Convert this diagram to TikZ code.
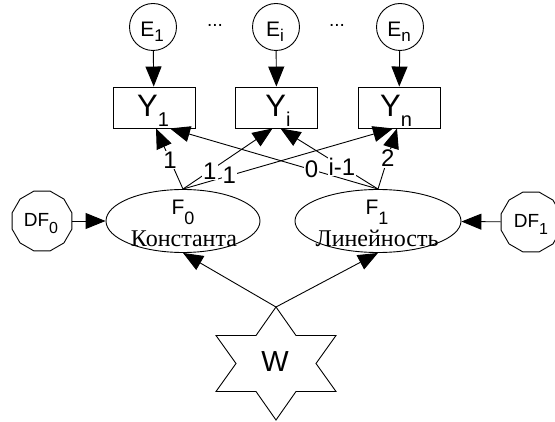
\documentclass[tikz,border=0pt]{standalone}
\usepackage{fontspec}
\setmainfont{Liberation Serif}
\setsansfont{Liberation Sans}
\usetikzlibrary{shapes.geometric,arrows.meta,calc}
\newcommand\SubLbl[5]{{\fontsize{#2pt}{#2pt}\selectfont #1}\raisebox{-#5pt}{\fontsize{#4pt}{#4pt}\selectfont #3}}
\tikzset{
  ecirc/.style={draw, circle, minimum size=47pt, inner sep=0pt},
  ybox/.style={draw, rectangle, minimum width=82pt, minimum height=41pt, inner sep=0pt},
  fell/.style={draw, ellipse, inner sep=0pt, minimum height=63pt},
  dfpoly/.style={draw, regular polygon, regular polygon sides=12, minimum size=62pt, inner sep=0pt},
  arr/.style={-{Triangle[length=20pt,width=16pt]}},
  txt/.style={anchor=base, inner sep=0pt, font=\sffamily},
  coef/.style={fill=white, inner sep=1pt, font=\fontsize{24pt}{24pt}\selectfont\sffamily},
  cyr/.style={anchor=base, inner sep=0pt, font=\fontsize{24pt}{24pt}\selectfont\rmfamily},
}
\begin{document}
\begin{tikzpicture}[x=1pt,y=-1pt,line width=0.9pt]
\useasboundingbox (0,0) rectangle (555,422);
% error circles
\node[ecirc] (E1) at (153,27) {};
\node[ecirc] (Ei) at (276,27) {};
\node[ecirc] (En) at (400,27) {};
\node[txt] (E1t) at (152,37) {\SubLbl{E}{21}{1}{17}{5}};
\node[txt] (Eit) at (275,37) {\SubLbl{E}{21}{i}{17}{5}};
\node[txt] (Ent) at (399,37) {\SubLbl{E}{21}{n}{17}{5}};
\node[txt,font=\fontsize{19pt}{19pt}\selectfont\sffamily] (d1) at (215,26.5) {...};
\node[txt,font=\fontsize{19pt}{19pt}\selectfont\sffamily] (d2) at (337,26.5) {...};
% observed boxes
\node[ybox] (Y1) at (154,107.5) {};
\node[ybox] (Yi) at (276.5,107.5) {};
\node[ybox] (Yn) at (399,107.5) {};
\node[txt] (Y1t) at (153,117) {\SubLbl{Y}{31}{1}{20}{10}};
\node[txt] (Yit) at (278,117) {\SubLbl{Y}{31}{i}{20}{10}};
\node[txt] (Ynt) at (396,117) {\SubLbl{Y}{31}{n}{20}{10}};
\draw[arr] (E1) -- (Y1);
\draw[arr] (Ei) -- (Yi);
\draw[arr] (En) -- (Yn);
% factors
\node[fell, minimum width=154pt] (F0) at (183,221) {};
\node[fell, minimum width=166pt] (F1) at (378,221) {};
\node[txt] (F0t) at (183,215) {\SubLbl{F}{21}{0}{18}{10}};
\node[txt] (F1t) at (377,215) {\SubLbl{F}{21}{1}{18}{10}};
\node[cyr] (F0n) at (184,246.5) {Константа};
\node[cyr] (F1n) at (377,246.5) {Линейность};
% disturbances
\node[dfpoly] (DF0) at (42,221) {};
\node[dfpoly] (DF1) at (531,222) {};
\node[txt] (DF0t) at (41,227) {\SubLbl{DF}{19}{0}{16}{6.5}};
\node[txt] (DF1t) at (531,228) {\SubLbl{DF}{19}{1}{16}{6.5}};
\draw[arr] (DF0) -- (F0);
\draw[arr] (DF1) -- (F1);
% loadings
\draw[arr] (F0.north) -- ($(Y1.south)+(2,0)$);
\draw[arr] (F0.north) -- ($(Yi.south)+(-4,0)$);
\draw[arr] (F0.north) -- ($(Yn.south)+(-6,0)$);
\draw[arr] (F1.north) -- ($(Y1.south)+(16,0)$);
\draw[arr] (F1.north) -- ($(Yi.south)+(4,0)$);
\draw[arr] (F1.north) -- ($(Yn.south)+(-2,0)$);
\path (F0.north) -- node[coef,pos=0.48] (l1) {1} ($(Y1.south)+(2,0)$);
\path (F0.north) -- node[coef,pos=0.30] (l2) {1} ($(Yi.south)+(-4,0)$);
\path (F0.north) -- node[coef,pos=0.22] (l3) {1} ($(Yn.south)+(-6,0)$);
\path (F1.north) -- node[coef,pos=0.32] (l4) {0} ($(Y1.south)+(16,0)$);
\path (F1.north) -- node[coef,pos=0.37] (l5) {i-1} ($(Yi.south)+(4,0)$);
\path (F1.north) -- node[coef,pos=0.51] (l6) {2} ($(Yn.south)+(-2,0)$);
% star W
\draw (276,307) -- (296,335.5) -- (336,335.5) -- (316,363.5) -- (336,391.5) -- (296,391.5)
  -- (276,420) -- (256,391.5) -- (216,391.5) -- (236,363.5) -- (216,335.5) -- (256,335.5) -- cycle;
\coordinate (Wtop) at (276,307);
\node[txt] (W) at (275,372) {\fontsize{29pt}{29pt}\selectfont W};
\draw[arr] (Wtop) -- (F0.south);
\draw[arr] (Wtop) -- (F1.south);
\end{tikzpicture}
\end{document}
